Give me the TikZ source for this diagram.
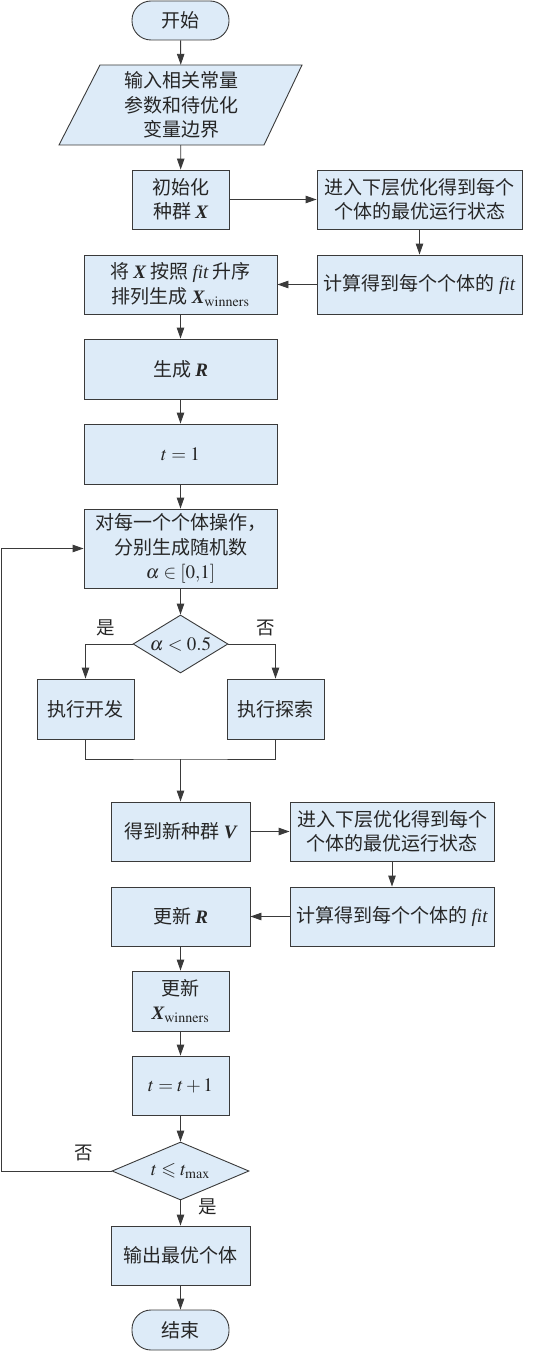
\documentclass[tikz,border=0pt]{standalone}
\usepackage{amsmath,amssymb}
\usepackage{mathptmx}
\usepackage[no-math]{fontspec}
\setmainfont{Noto Sans CJK SC}
\newfontfamily\lat{Liberation Serif}
\usetikzlibrary{shapes.geometric,arrows.meta}
\definecolor{boxfill}{HTML}{DDEBF8}
\definecolor{edge}{HTML}{3A3A3A}
\newcommand{\bX}{{\lat\bfseries\itshape X}}
\newcommand{\bR}{{\lat\bfseries\itshape R}}
\newcommand{\bV}{{\lat\bfseries\itshape V}}
\newcommand{\fitt}{{\lat\itshape fit}}
\begin{document}
\begin{tikzpicture}[x=1pt,y=-1pt,
  every node/.style={font=\fontsize{19}{24.5}\selectfont, text=black!85, inner sep=0pt, align=center},
  box/.style={draw=edge, fill=boxfill, line width=0.9pt, rectangle},
  term/.style={box, rounded corners=19pt},
  dia/.style={draw=edge, fill=boxfill, line width=0.9pt, diamond},
  arr/.style={draw=edge, line width=0.9pt, -{Triangle[length=11pt,width=7.5pt]}},
  ln/.style={draw=edge, line width=0.9pt},
  lbl/.style={font=\fontsize{18.5}{20}\selectfont}
]
\useasboundingbox (0,0) rectangle (540,1351);

\node[term, minimum width=97pt, minimum height=39pt] (start) at (180.5,20.5) {开始};

\fill[boxfill] (100,65) -- (302,65) -- (264,145) -- (59,145) -- cycle;
\draw[edge, line width=0.9pt] (100,65) -- (302,65) -- (264,145) -- (59,145) -- cycle;
\node[minimum width=160pt, minimum height=80pt] (in) at (181,105) {输入相关常量\\参数和待优化\\变量边界};

\node[box, minimum width=97pt, minimum height=59pt] (init) at (180.5,199.5) {初始化\\种群 \bX};
\node[box, minimum width=205pt, minimum height=59pt] (low1) at (419.5,199.5) {进入下层优化得到每个\\个体的最优运行状态};
\node[box, minimum width=205pt, minimum height=59pt] (fit1) at (419.5,284.5) {计算得到每个个体的 \fitt};
\node[box, minimum width=193pt, minimum height=59pt] (sort) at (180.5,284.5) {将 \bX\ 按照 \fitt\ 升序\\排列生成 $\mbox{\bX}_{\mathrm{winners}}$};
\node[box, minimum width=193pt, minimum height=60pt] (genR) at (180.5,369) {生成 \bR};
\node[box, minimum width=193pt, minimum height=60pt] (t1) at (180.5,454) {$t=1$};
\node[box, minimum width=193pt, minimum height=79pt] (each) at (180.5,548.5) {对每一个个体操作，\\分别生成随机数\\$\alpha\in[0{,}1]$};
\node[dia, aspect=1.64, minimum width=95pt, minimum height=58pt] (d1) at (180.5,644) {$\alpha<0.5$};
\node[box, minimum width=97pt, minimum height=60pt] (expl) at (85.5,709) {执行开发};
\node[box, minimum width=97pt, minimum height=60pt] (expr) at (275.5,709) {执行探索};
\coordinate (m) at (180.5,759);
\node[box, minimum width=139pt, minimum height=59pt] (newV) at (180.5,831.5) {得到新种群 \bV};
\node[box, minimum width=204pt, minimum height=59pt] (low2) at (392,831.5) {进入下层优化得到每个\\个体的最优运行状态};
\node[box, minimum width=204pt, minimum height=59pt] (fit2) at (392,916.5) {计算得到每个个体的 \fitt};
\node[box, minimum width=139pt, minimum height=59pt] (updR) at (180.5,916.5) {更新 \bR};
\node[box, minimum width=97pt, minimum height=60pt] (updX) at (180.5,1001) {更新\\$\mbox{\bX}_{\mathrm{winners}}$};
\node[box, minimum width=97pt, minimum height=59pt] (tinc) at (180.5,1085.5) {$t=t+1$};
\node[dia, aspect=2.36, minimum width=137pt, minimum height=58pt] (d2) at (180.5,1171) {$t\leqslant t_{\max}$};
\node[box, minimum width=139pt, minimum height=59pt] (out) at (180.5,1255.5) {输出最优个体};
\node[term, minimum width=97pt, minimum height=40pt] (end) at (180.5,1330) {结束};

\coordinate (loopB) at (1.5,1171);
\coordinate (loopT) at (1.5,548.5);

\draw[arr] (start) -- (in);
\draw[arr] (in) -- (init);
\draw[arr] (init) -- (low1);
\draw[arr] (low1) -- (fit1);
\draw[arr] (fit1) -- (sort);
\draw[arr] (sort) -- (genR);
\draw[arr] (genR) -- (t1);
\draw[arr] (t1) -- (each);
\draw[arr] (each) -- (d1);
\draw[arr] (d1.west) -| (expl.north);
\draw[arr] (d1.east) -| (expr.north);
\draw[ln] (expl.south) |- (m) -| (expr.south);
\draw[arr] (m) -- (newV);
\draw[arr] (newV) -- (low2);
\draw[arr] (low2) -- (fit2);
\draw[arr] (fit2) -- (updR);
\draw[arr] (updR) -- (updX);
\draw[arr] (updX) -- (tinc);
\draw[arr] (tinc) -- (d2);
\draw[arr] (d2) -- (out);
\draw[arr] (out) -- (end);
\draw[arr] (d2.west) -- (loopB) -- (loopT) -- (each.west);

\node[lbl] at (106,628) {是};
\node[lbl] at (266,628) {否};
\node[lbl] at (84,1153) {否};
\node[lbl] at (208,1207) {是};
\end{tikzpicture}
\end{document}
